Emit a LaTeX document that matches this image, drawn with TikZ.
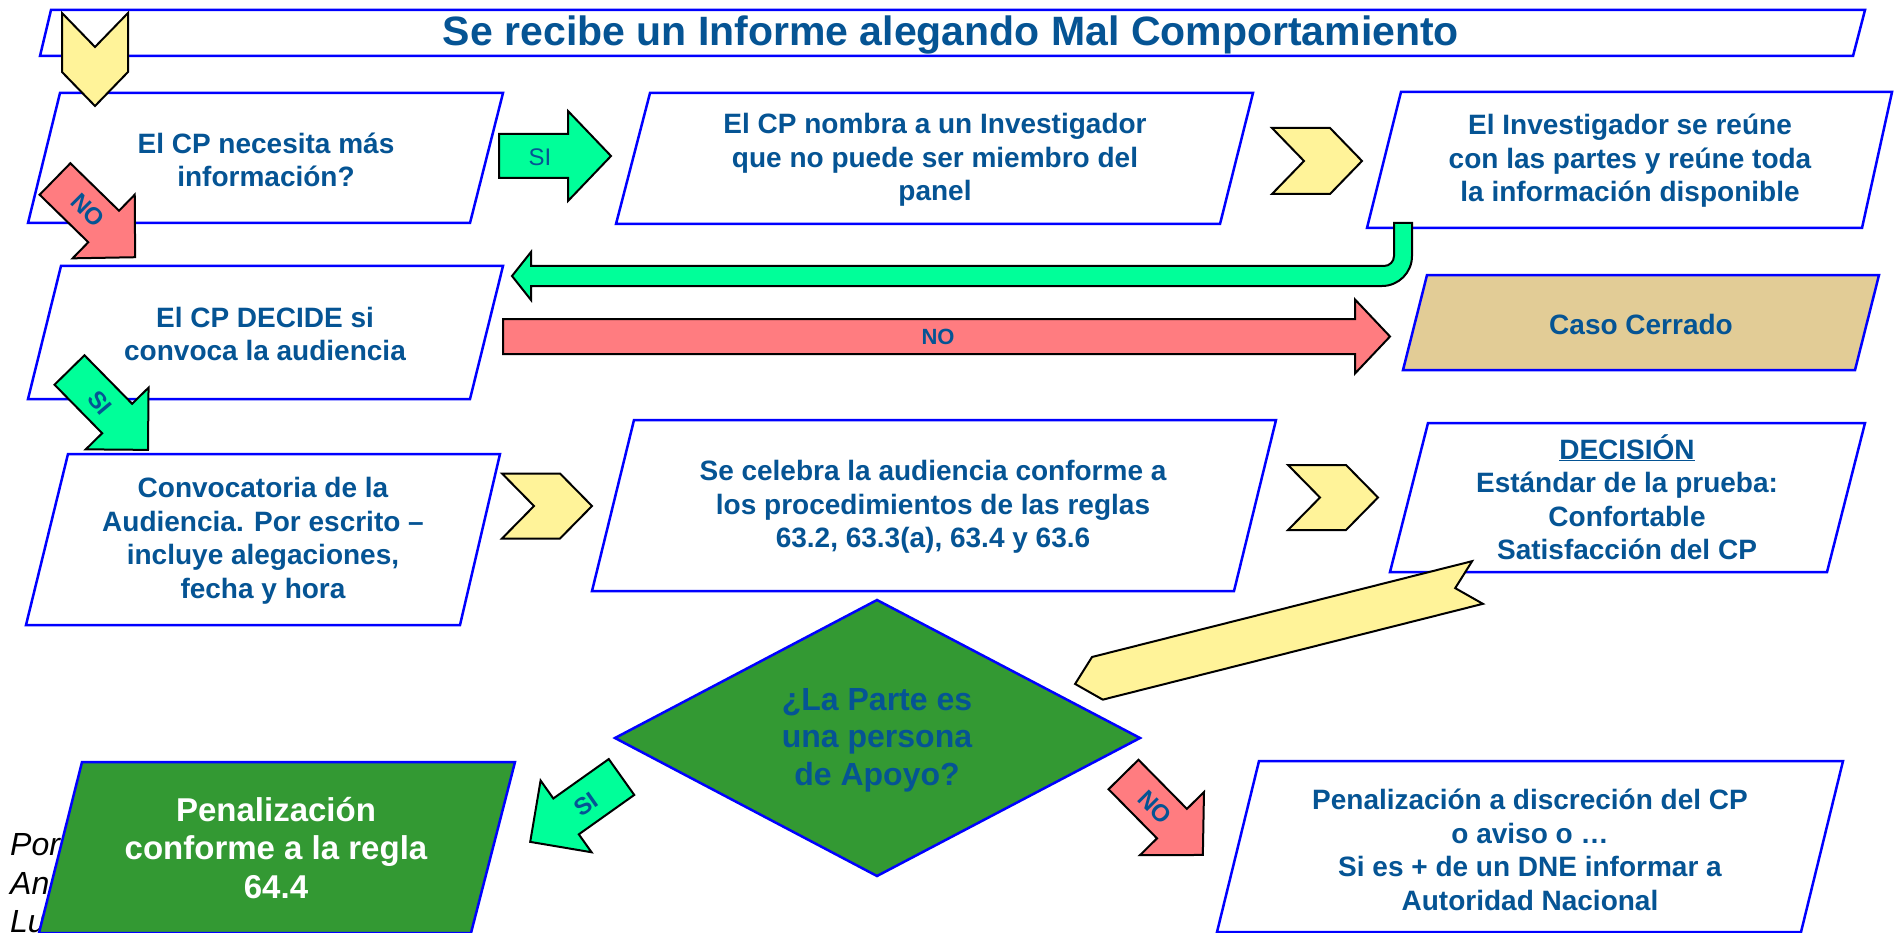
\documentclass[tikz,border=0pt]{standalone}
\usepackage{fontspec}
\setmainfont{Liberation Sans}
\definecolor{boxblue}{RGB}{0,0,255}
\definecolor{txtblue}{RGB}{5,84,148}
\definecolor{chevyellow}{RGB}{255,243,153}
\definecolor{agreen}{RGB}{0,255,153}
\definecolor{ared}{RGB}{255,124,128}
\definecolor{dgreen}{RGB}{51,153,51}
\definecolor{papyrus}{RGB}{226,204,150}
\tikzset{
  pbox/.style={draw=boxblue, line width=2.5pt, line join=miter, fill=white},
  txt/.style={text=txtblue, font=\fontsize{28}{33.5}\selectfont\bfseries, align=center, inner sep=0pt},
  arr/.style={draw=black, line width=2pt, line join=miter},
  lbl/.style={text=txtblue, font=\fontsize{24}{26}\selectfont\bfseries, inner sep=0pt},
  note/.style={anchor=west, font=\fontsize{32}{38}\selectfont\itshape, inner sep=0pt, text=black}
}
% block arrow: tail centre x, y, angle, length, shaft half width, head half width, head length, colour
\newcommand\barr[8]{%
  \begin{scope}[shift={(#1,#2)},rotate=#3]
    \draw[arr,fill=#8] (0,-#5) -- ({#4-#7},-#5) -- ({#4-#7},-#6) -- (#4,0)
      -- ({#4-#7},#6) -- ({#4-#7},#5) -- (0,#5) -- cycle;
  \end{scope}}
% chevron: tail centre x, y, angle, length, half width, depth
\newcommand\chev[6]{%
  \begin{scope}[shift={(#1,#2)},rotate=#3]
    \draw[arr,fill=chevyellow] (0,-#5) -- ({#4-#6},-#5) -- (#4,0)
      -- ({#4-#6},#5) -- (0,#5) -- (#6,0) -- cycle;
  \end{scope}}
\begin{document}
\begin{tikzpicture}[x=1pt,y=-1pt]
\useasboundingbox (0,0) rectangle (1894,933);
\fill[white] (0,0) rectangle (1894,933);

% title
\draw[pbox] (51,10) -- (1865,10) -- (1853,56) -- (40,56) -- cycle;
\node[txt, font=\fontsize{41}{48}\selectfont\bfseries] (title) at (951,35) {Se recibe un Informe alegando Mal Comportamiento};

% row 1
\draw[pbox] (60,93) -- (503,93) -- (470,223) -- (28,223) -- cycle;
\node[txt] (b1) at (266,160) {El CP necesita más\\información?};
\draw[pbox] (650,93) -- (1253,93) -- (1220,224) -- (616,224) -- cycle;
\node[txt] (b2) at (935,160) {El CP nombra a un Investigador\\que no puede ser miembro del\\panel};
\draw[pbox] (1401,92) -- (1892,92) -- (1862,228) -- (1367,228) -- cycle;
\node[txt] (b3) at (1630,161) {El Investigador se reúne\\con las partes y reúne toda\\la información disponible};

% row 2
\draw[pbox] (61,266) -- (503,266) -- (470,399) -- (28,399) -- cycle;
\node[txt] (b4) at (265,334) {El CP DECIDE si\\convoca la audiencia};
\draw[pbox, fill=papyrus] (1427,275) -- (1879,275) -- (1855,370) -- (1403,370) -- cycle;
\node[txt] (caso) at (1641,324) {Caso Cerrado};

% row 3
\draw[pbox] (68,454) -- (500,454) -- (460,625) -- (26,625) -- cycle;
\node[txt] (b5) at (263,541) {Convocatoria de la\\Audiencia. Por escrito –\\incluye alegaciones,\\fecha y hora};
\draw[pbox] (634,420) -- (1276,420) -- (1234,591) -- (592,591) -- cycle;
\node[txt] (b6) at (933,507) {Se celebra la audiencia conforme a\\los procedimientos de las reglas\\63.2, 63.3(a), 63.4 y 63.6};
\draw[pbox] (1428,423) -- (1865,423) -- (1827,572) -- (1390,572) -- cycle;
\node[txt] (b7) at (1627,497) {\underline{DECISIÓN}\\Estándar de la prueba:\\Confortable\\Satisfacción del CP};

% decision diamond
\draw[pbox, fill=dgreen] (877,600) -- (1140,738) -- (877,876) -- (615,738) -- cycle;
\node[txt, font=\fontsize{32}{37.5}\selectfont\bfseries] (dia) at (877,740) {¿La Parte es\\una persona\\de Apoyo?};

% bottom row
\node[note] (por) at (10,845) {Por};
\node[note] (an) at (10,883) {An};
\node[note] (lu) at (10,922) {Lu};
\draw[pbox, fill=dgreen] (82,762) -- (515,762) -- (471,933) -- (39,933) -- cycle;
\node[txt, text=white, font=\fontsize{33}{38.5}\selectfont\bfseries] (pen) at (276,848) {Penalización\\conforme a la regla\\64.4};
\draw[pbox] (1259,761) -- (1843,761) -- (1801,932) -- (1217,932) -- cycle;
\node[txt] (fin) at (1530,850) {Penalización a discreción del CP\\o aviso o …\\Si es + de un DNE informar a\\Autoridad Nacional};

% chevrons
\chev{95}{13}{-90}{93}{33}{34}
\chev{1272}{161}{0}{90}{33}{32}
\chev{502}{506}{0}{90}{32.5}{32}
\chev{1288}{497.5}{0}{90}{32.5}{32}
\chev{1477.5}{582.5}{-165.85}{415}{22}{23}

% block arrows
\barr{499}{156}{0}{112}{22}{45}{43}{agreen}
\node[lbl, font=\fontsize{24}{26}\selectfont] (si1) at (540,157) {SI};
\barr{55}{179}{-44.3}{112}{22}{44.5}{44}{ared}
\node[lbl, rotate=-45] (no1) at (88,210) {NO};
\barr{503}{336.5}{0}{887}{17.5}{37}{35}{ared}
\node[lbl, font=\fontsize{22}{24}\selectfont\bfseries] (no2) at (938,337) {NO};
\barr{69.5}{370}{-45.5}{112}{21}{44}{44}{agreen}
\node[lbl, rotate=-50] (si2) at (100,403) {SI};
\barr{1123.5}{774.5}{-45.4}{113}{21}{45}{44}{ared}
\node[lbl, rotate=-45] (no3) at (1155,807) {NO};
\barr{621.5}{777}{-144.6}{112}{22}{44}{44}{agreen}
\node[lbl, rotate=35] (si3) at (586,804) {SI};

% return arrow from the investigator to the decision
\draw[arr, fill=agreen] (1394,223) -- (1394,256) .. controls (1394,261.5) and (1389.5,266) .. (1384,266)
  -- (531,266) -- (531,252) -- (512,276) -- (531,300) -- (531,286) -- (1382,286)
  .. controls (1398.6,286) and (1412,272.6) .. (1412,256) -- (1412,223) -- cycle;
\end{tikzpicture}
\end{document}
